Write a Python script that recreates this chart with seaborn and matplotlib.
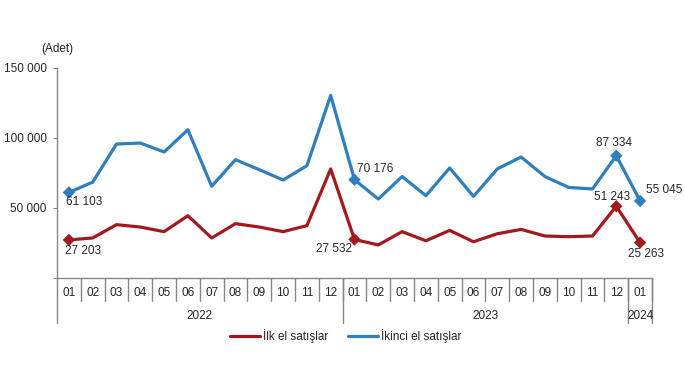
import numpy as np
import pandas as pd
import matplotlib
matplotlib.use("Agg")
import matplotlib.pyplot as plt
import matplotlib.transforms as mtransforms
import seaborn as sns

# Monthly values (Jan 2022 - Jan 2024)
months = ["01", "02", "03", "04", "05", "06", "07", "08", "09", "10", "11", "12",
          "01", "02", "03", "04", "05", "06", "07", "08", "09", "10", "11", "12",
          "01"]
years = ["2022", "2023", "2024"]
year_lengths = [12, 12, 1]

ilk_el = [27203, 28600, 38100, 36400, 33100, 44500, 28600, 38800, 36400, 33100,
          37400, 77900,
          27532, 23600, 33100, 26600, 34000, 25900, 31600, 34700, 30000, 29500,
          30000, 51243,
          25263]
ikinci_el = [61103, 68500, 95700, 96400, 90000, 105900, 65500, 84500, 77400, 70000,
             80200, 130400,
             70176, 56400, 72500, 58800, 78600, 58300, 77900, 86400, 72500, 64700,
             63600, 87334,
             55045]

series_names = ["İlk el satışlar", "İkinci el satışlar"]
colors = {"İlk el satışlar": "#A21A1F", "İkinci el satışlar": "#2F7EBE"}

# points that get a marker and a value label
label_idx = [0, 12, 23, 24]
# label offsets (points) per series, per labelled index
ilk_offsets = [(-3, -8, "left"), (-2, -7, "right"), (-3, 7, "center"), (4, -8, "center")]
ikinci_offsets = [(-2, -7, "left"), (2, 8, "left"), (-2, 9, "center"), (4, 8, "left")]

n = len(months)
df = pd.DataFrame({
    "pos": list(range(n)) * 2,
    "value": ilk_el + ikinci_el,
    "series": [series_names[0]] * n + [series_names[1]] * n,
})
df_marks = df[df["pos"].isin(label_idx)]

sns.set_style("white")
plt.rcParams["font.family"] = ["Liberation Sans", "DejaVu Sans"]
plt.rcParams["font.size"] = 8.5

fig = plt.figure(figsize=(6.85, 3.85), dpi=100)
ax = fig.add_axes([57 / 685, 1 - 278 / 385, 595 / 685, 210 / 385])

sns.lineplot(data=df, x="pos", y="value", hue="series", hue_order=series_names,
             palette=colors, linewidth=2.3, ax=ax, sort=False)
sns.scatterplot(data=df_marks, x="pos", y="value", hue="series", hue_order=series_names,
                palette=colors, marker="D", s=40, linewidth=0, legend=False, ax=ax)

ax.set_xlim(-0.5, n - 0.5)
ax.set_ylim(0, 150000)
ax.set_xlabel("")
ax.set_ylabel("")

grey = "#868686"
for s in ["top", "right"]:
    ax.spines[s].set_visible(False)
for s in ["left", "bottom"]:
    ax.spines[s].set_color(grey)
    ax.spines[s].set_linewidth(1)

ax.set_yticks([0, 50000, 100000, 150000])
ax.set_yticklabels(["", "50 000", "100 000", "150 000"])
ax.tick_params(axis="y", direction="out", length=3, color=grey, pad=4.5,
               labelsize=8.5, left=True)
ax.set_xticks([])

# category table under the axis
trans = mtransforms.blended_transform_factory(ax.transData, ax.transAxes)
for k in range(1, n + 1):
    ax.plot([k - 0.5, k - 0.5], [0, -0.11], color=grey, lw=1, transform=trans, clip_on=False)
for i, m in enumerate(months):
    ax.text(i, -0.07, m, transform=trans, ha="center", va="center", fontsize=8.5)
start = 0
ax.plot([-0.5, -0.5], [0, -0.215], color=grey, lw=1, transform=trans, clip_on=False)
for y, ln in zip(years, year_lengths):
    end = start + ln
    ax.plot([end - 0.5, end - 0.5], [0, -0.215], color=grey, lw=1, transform=trans,
            clip_on=False)
    ax.text((start + end - 1) / 2, -0.18, y, transform=trans, ha="center", va="center",
            fontsize=8.5)
    start = end

# value labels
def fmt(v):
    return f"{v:,}".replace(",", " ")

for vals, offs in [(ilk_el, ilk_offsets), (ikinci_el, ikinci_offsets)]:
    for i, (dx, dy, ha) in zip(label_idx, offs):
        ax.annotate(fmt(vals[i]), (i, vals[i]), xytext=(dx, dy), textcoords="offset points",
                    ha=ha, va="center", fontsize=8.5, annotation_clip=False)

fig.text(57 / 685, 1 - 49 / 385, "(Adet)", ha="center", va="center", fontsize=8.5)

handles, labels = ax.get_legend_handles_labels()
ax.get_legend().remove()
fig.legend(handles[:2], labels[:2], loc="center", bbox_to_anchor=(0.505, 1 - 336 / 385),
           ncol=2, frameon=False, handlelength=2.5, handletextpad=0.3, columnspacing=1.7,
           fontsize=8.5)

fig.savefig("out.png", dpi=100)
